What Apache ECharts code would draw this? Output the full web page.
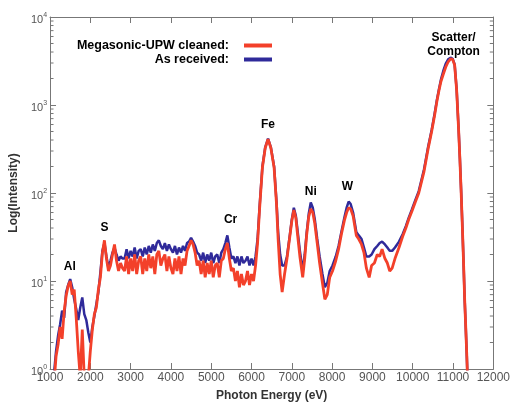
<!DOCTYPE html>
<html>
<head>
<meta charset="utf-8">
<script src="https://cdn.jsdelivr.net/npm/echarts@6/dist/echarts.min.js"></script>
<style>
  html, body { margin: 0; padding: 0; background: #fff; }
  #chart { width: 513px; height: 407px; }
</style>
</head>
<body>
<div id="chart"></div>
<script>
// photon energy (eV), shared by both spectra
var energy = [
  1100, 1150, 1200, 1250, 1300, 1350, 1400, 1450, 1500, 1550,
  1600, 1650, 1700, 1750, 1800, 1850, 1900, 1950, 2000, 2050,
  2100, 2150, 2200, 2250, 2300, 2350, 2400, 2450, 2500, 2550,
  2600, 2650, 2700, 2750, 2800,
  2850, 2900, 2950, 3000, 3050, 3100, 3150, 3200, 3250, 3300,
  3350, 3400, 3450, 3500, 3550, 3600, 3650, 3700, 3750, 3800,
  3850, 3900, 3950, 4000, 4050, 4100, 4150, 4200, 4250, 4300,
  4350, 4400, 4450, 4500, 4550, 4600, 4650, 4700, 4750, 4800,
  4850, 4900, 4950, 5000, 5050, 5100, 5150, 5200, 5250, 5300,
  5350, 5400, 5450, 5500, 5550, 5600, 5650, 5700, 5750, 5800,
  5850, 5900, 5950, 6000, 6050, 6100, 6150,
  6200, 6270, 6340, 6410, 6480, 6560, 6620, 6660, 6710, 6760,
  6820, 6880, 6950, 7000, 7050, 7100, 7130, 7200, 7270, 7320,
  7370, 7420, 7470, 7520, 7570, 7630, 7690, 7760, 7820, 7880,
  7940, 8010, 8090, 8160, 8230, 8310, 8360, 8410, 8460, 8520,
  8600, 8660, 8730, 8790, 8850, 8920, 8980, 9050, 9120, 9180,
  9240, 9310, 9370, 9430, 9490, 9560, 9660, 9750, 9830, 9900,
  9980, 10060, 10150, 10280, 10380, 10470, 10540, 10600, 10650, 10700,
  10760, 10820, 10880, 10940, 10990, 11040, 11090, 11140, 11170, 11200,
  11230, 11260, 11290, 11310, 11340, 11360
]

// as received (blue)
var asReceived = [
  0.9, 1.6, 2.4, 3.2, 4.6, 3.8, 7.5, 9.0, 10.5, 8.5,
  6.2, 4.8, 3.6, 5.0, 6.5, 4.2, 3.6, 2.6, 2.0, 3.0,
  4.0, 5.5, 7.5, 12.5, 22, 27, 19, 14, 17, 21,
  24, 20, 17, 19, 18,
  18, 23, 18, 22, 19, 24, 18, 22, 23, 19,
  24, 20, 25, 21, 26, 22, 27, 29, 25, 23,
  27, 22, 26, 23, 21, 25, 20, 24, 21, 25,
  22, 27, 28, 31, 28, 25, 21, 20, 17, 21,
  16, 20, 17, 21, 16, 19, 20, 16, 21, 23,
  27, 33, 24, 18, 19, 16, 19, 15, 19, 16,
  17, 19, 15, 18, 15, 19, 30,
  70, 200, 330, 415, 330, 200, 80, 36, 20, 15,
  15, 19, 33, 50, 68, 55, 42, 22, 13, 20,
  36, 58, 78, 68, 50, 30, 19, 12, 8.5, 9.5,
  13, 15, 19, 25, 36, 54, 68, 80, 75, 60,
  36, 33, 30, 24, 19, 19, 20, 23, 25, 27,
  28, 26, 24, 22, 22, 24, 28, 34, 42, 52,
  65, 82, 105, 185, 330, 520, 780, 1140, 1500, 1940,
  2450, 2950, 3300, 3450, 3350, 2900, 1500, 520, 250, 110,
  45, 17, 6, 3.5, 1.5, 0.8
]

// megasonic-UPW cleaned (red)
var cleaned = [
  0.7, 1.4, 1.9, 3.0, 2.2, 4.5, 6.8, 8.8, 10.0, 7.0,
  8.0, 3.8, 1.6, 0.8, 2.8, 0.8, 0.7, 0.8, 1.6, 2.8,
  4.2, 5.0, 8.0, 11, 21, 29, 18, 13, 15, 20,
  26, 17, 13, 16, 14,
  13, 19, 12, 18, 13, 20, 12, 17, 19, 12,
  18, 13, 20, 14, 19, 12, 20, 22, 15, 18,
  20, 13, 19, 14, 12, 18, 13, 19, 12, 18,
  15, 22, 25, 29, 26, 21, 15, 17, 12, 17,
  11, 16, 12, 17, 11, 15, 16, 11, 17, 18,
  23, 27, 18, 13, 14, 10, 13, 8.5, 12, 9,
  10, 13, 9, 12, 10, 15, 27,
  66, 195, 325, 410, 325, 195, 75, 30, 12, 7.5,
  12, 18, 32, 48, 64, 52, 38, 19, 11, 18,
  34, 54, 66, 60, 45, 27, 16, 9.5, 6.2, 7,
  11, 13, 17, 23, 34, 50, 60, 68, 66, 55,
  33, 30, 26, 21, 14, 11, 15, 16, 20, 19,
  23, 18, 16, 13, 14, 18, 24, 32, 40, 50,
  62, 78, 100, 175, 315, 500, 750, 1100, 1450, 1850,
  2250, 2700, 3100, 3350, 3300, 2850, 1480, 510, 245, 108,
  44, 17, 6, 3.5, 1.5, 0.8
]

var xTicks = [1000, 12000, 1000] // min, max, interval
var yRange = [1, 10000]
var yDecades = [1, 10, 100, 1000]
var minorMantissa = [2, 3, 4, 5, 6, 7, 8, 9]

var peakNames = ['Al', 'S', 'Cr', 'Fe', 'Ni', 'W', 'Scatter/\nCompton']
var peakPos = [[1490, 14.7], [2350, 40], [5480, 50], [6410, 600], [7470, 104], [8380, 118], [11015, 4800]]

function pairs(ys) {
  return energy.map(function(e, i) { return [e, ys[i]] })
}

// log minor tick values 2..9 in every decade
var minorTicks = []
yDecades.forEach(function(d) {
  minorMantissa.forEach(function(m) { minorTicks.push([xTicks[0], m * d]) })
})

var chart = echarts.init(document.getElementById('chart'))

var axisGrey = '#777'
var labelFont = 'Liberation Sans'

function yAxisCommon(pos, showLabels) {
  return {
    type: 'log',
    logBase: 10,
    position: pos,
    min: yRange[0],
    max: yRange[1],
    axisLine: { show: true, lineStyle: { color: axisGrey } },
    axisTick: { show: true, inside: true, length: 6, lineStyle: { color: axisGrey } },
    splitLine: { show: false },
    axisLabel: {
      show: showLabels,
      margin: 3,
      formatter: function(v) {
        return '{b|10}{e|' + Math.round(Math.log10(v)) + '}'
      },
      rich: {
        b: { fontSize: 11, color: '#555', fontFamily: labelFont, padding: [6, 0, 0, 0] },
        e: { fontSize: 7, color: '#555', fontFamily: labelFont, padding: [0, 0, 4, 0] }
      }
    }
  }
}

function xAxisCommon(pos, showLabels) {
  return {
    type: 'value',
    position: pos,
    min: xTicks[0],
    max: xTicks[1],
    interval: xTicks[2],
    axisLine: { show: true, lineStyle: { color: axisGrey } },
    axisTick: { show: true, inside: true, length: 6, lineStyle: { color: axisGrey } },
    splitLine: { show: false },
    axisLabel: {
      show: showLabels, margin: 3, fontSize: 12, color: '#555', fontFamily: labelFont,
      formatter: function(v) { return String(v) }
    }
  }
}

var xBottom = xAxisCommon('bottom', true)
xBottom.name = 'Photon Energy (eV)'
xBottom.nameLocation = 'middle'
xBottom.nameGap = 21
xBottom.nameTextStyle = { fontSize: 12, fontWeight: 'bold', color: '#333', fontFamily: labelFont }

var yLeft = yAxisCommon('left', true)
yLeft.name = 'Log(Intensity)'
yLeft.nameLocation = 'middle'
yLeft.nameGap = 20
yLeft.nameTextStyle = { fontSize: 12, fontWeight: 'bold', color: '#333', fontFamily: labelFont }

var legendText = { fontSize: 12.5, fontWeight: 'bold', color: '#000', fontFamily: labelFont, padding: [0, 10, 0, 0] }

chart.setOption({
  backgroundColor: '#fff',
  animation: false,
  grid: { left: 48, right: 18, top: 17, bottom: 37 },
  legend: [
    {
      data: ['Megasonic-UPW cleaned:'],
      right: 236, top: 34, align: 'right',
      icon: 'rect', itemWidth: 28, itemHeight: 4,
      textStyle: legendText
    },
    {
      data: ['As received:'],
      right: 236, top: 48, align: 'right',
      icon: 'rect', itemWidth: 28, itemHeight: 4,
      textStyle: legendText
    }
  ],
  xAxis: [xBottom, xAxisCommon('top', false)],
  yAxis: [yLeft, yAxisCommon('right', false)],
  series: [
    {
      name: 'As received:',
      type: 'line',
      data: pairs(asReceived),
      showSymbol: false,
      color: '#2f2a9a',
      lineStyle: { width: 2.5, color: '#2f2a9a' },
      z: 2
    },
    {
      name: 'Megasonic-UPW cleaned:',
      type: 'line',
      data: pairs(cleaned),
      showSymbol: false,
      color: '#f3402a',
      lineStyle: { width: 2.8, color: '#f3402a' },
      z: 3,
      markPoint: {
        symbolSize: 0,
        label: {
          show: true,
          position: 'inside',
          formatter: '{b}',
          fontSize: 12,
          fontWeight: 'bold',
          color: '#000',
          fontFamily: labelFont,
          lineHeight: 14
        },
        data: peakNames.map(function(n, i) {
          return { name: n, coord: peakPos[i] }
        })
      }
    },
    {
      // minor ticks of the log axes, left and right
      type: 'custom',
      silent: true,
      clip: false,
      z: 5,
      data: minorTicks,
      renderItem: function(params, api) {
        var v = api.value(1)
        var p = api.coord([xTicks[0], v])
        var q = api.coord([xTicks[1], v])
        var style = { stroke: axisGrey, lineWidth: 1 }
        return {
          type: 'group',
          children: [
            { type: 'line', shape: { x1: p[0], y1: p[1], x2: p[0] + 3.5, y2: p[1] }, style: style },
            { type: 'line', shape: { x1: q[0], y1: q[1], x2: q[0] - 3.5, y2: q[1] }, style: style }
          ]
        }
      }
    }
  ]
})
</script>
</body>
</html>
